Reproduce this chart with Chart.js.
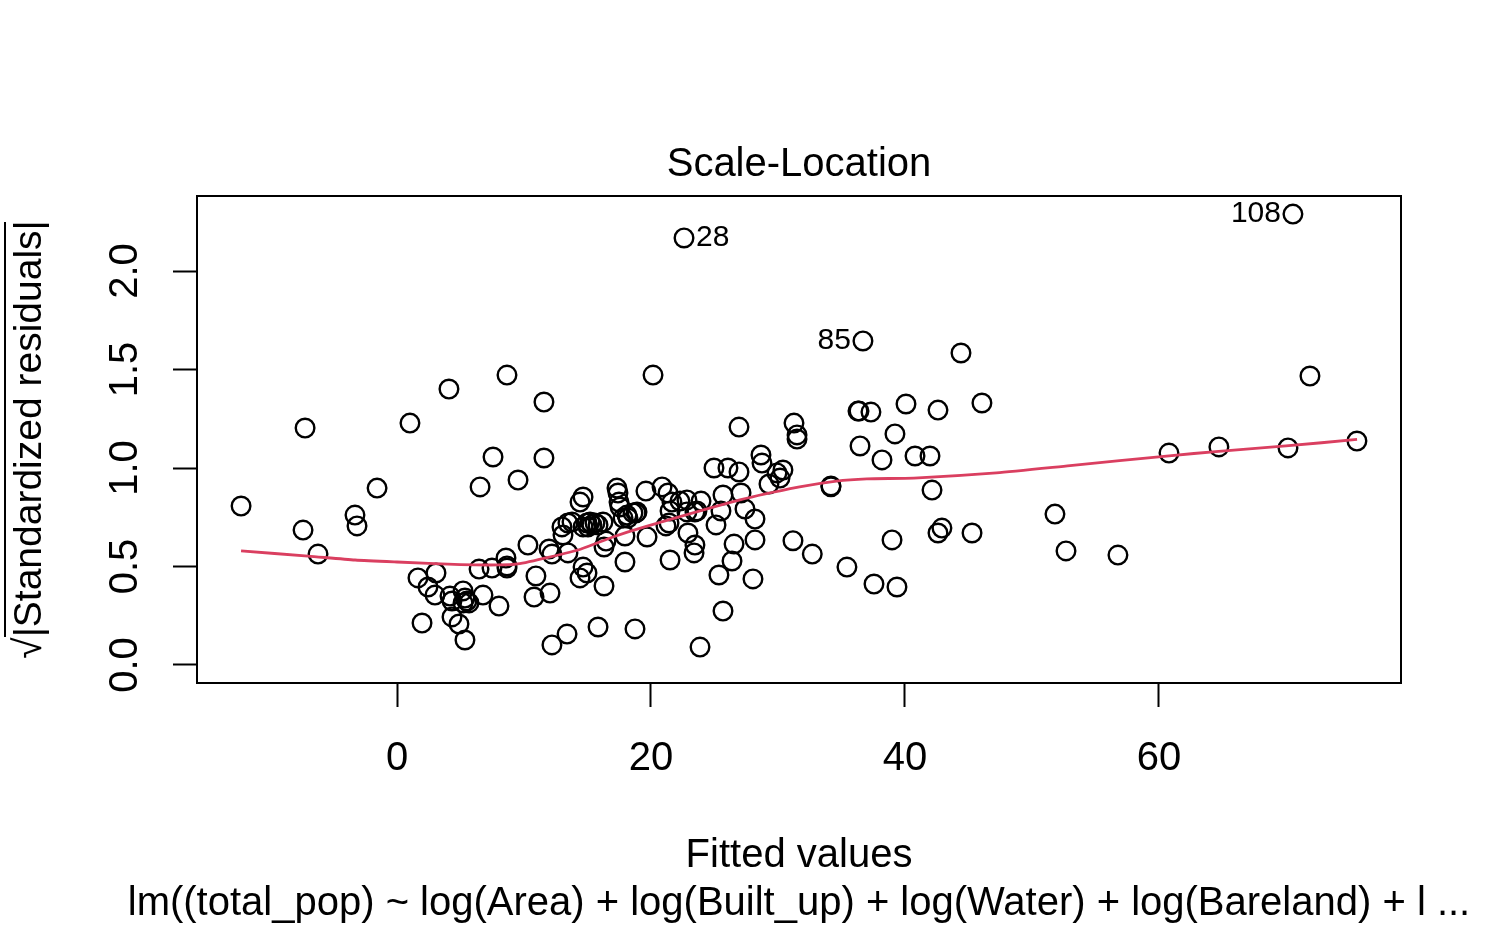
<!DOCTYPE html>
<html>
<head>
<meta charset="utf-8">
<style>html,body{margin:0;padding:0;background:#fff}canvas{display:block}</style>
<script src="https://cdn.jsdelivr.net/npm/chart.js@4/dist/chart.umd.min.js"></script>
</head>
<body>
<canvas id="c" width="1502" height="928" style="width:1502px;height:928px"></canvas>
<script>
const fittedValues = [-12.28,-7.40,-7.24,-6.22,-3.31,-3.15,-1.57,1.02,4.09,8.66,11.57,11.57,7.56,9.53,6.54,20.16,22.6,70.55,36.69,44.41,71.89,46.06,40.08,42.6,36.38,36.3,37.32,31.26,31.5,31.5,26.93,36.46,39.21,38.19,40.79,41.97,42.13,60.79,64.72,70.16,75.59,51.81,52.68,56.77,45.28,42.91,42.6,38.98,31.18,32.7,35.43,37.56,39.37,34.17,34.17,28.66,28.74,24.96,26.06,26.93,30.39,29.92,30.16,29.29,27.09,25.67,20.87,21.34,19.6,23.94,22.83,22.28,21.65,21.5,23.62,23.46,22.83,21.42,21.18,27.4,28.19,25.51,25.12,22.91,19.69,23.46,23.39,21.5,26.54,28.19,26.38,25.35,28.03,25.67,23.86,1.65,3.07,2.44,2.99,4.17,4.33,5.2,5.35,5.51,5.67,5.2,6.77,8.03,4.33,4.88,1.97,5.35,6.46,7.48,8.58,8.66,8.66,10.31,10.94,10.79,12.05,11.97,12.2,13.46,13.39,12.2,15.83,18.74,16.3,14.41,14.65,14.96,17.95,16.3,16.46,17.95,13.07,12.99,13.46,13.78,14.65,14.96,15.2,15.35,15.59,15.83,16.22,15.04,14.41,14.65,17.32,17.4,17.48,17.56,17.8,18.11,18.58,18.9,18.82,18.19];
const sqrtResiduals = [0.807,0.685,1.203,0.563,0.761,0.706,0.898,1.228,1.401,1.472,1.335,1.051,1.056,0.939,0.904,1.472,2.168,2.289,1.645,1.584,1.467,1.330,1.325,1.294,1.289,1.289,1.284,1.228,1.168,1.147,1.208,1.112,1.173,1.041,1.061,1.061,0.888,1.076,1.107,1.102,1.137,0.766,0.579,0.558,0.670,0.695,0.670,0.635,0.631,0.563,0.497,0.411,0.396,0.909,0.905,1.066,1.025,1.0,1.0,0.98,0.99,0.975,0.949,0.919,0.873,0.863,0.904,0.873,0.883,0.832,0.838,0.832,0.827,0.782,0.782,0.777,0.777,0.721,0.706,0.792,0.741,0.782,0.711,0.670,0.650,0.609,0.569,0.533,0.614,0.635,0.528,0.457,0.437,0.274,0.091,0.442,0.467,0.396,0.355,0.350,0.325,0.376,0.340,0.325,0.315,0.315,0.355,0.299,0.244,0.208,0.213,0.127,0.487,0.492,0.543,0.503,0.492,0.609,0.452,0.345,0.365,0.589,0.563,0.569,0.157,0.102,0.193,0.183,0.401,0.442,0.497,0.467,0.523,0.599,0.629,0.655,0.660,0.701,0.721,0.726,0.701,0.721,0.726,0.711,0.721,0.711,0.726,0.701,0.827,0.853,0.898,0.873,0.827,0.802,0.746,0.761,0.772,0.777,0.772,0.746];
const smoothX = [-12.28,-7,-3.3,0,5,8,9.5,12,14.5,17,19.5,27,31.7,34.6,37,40.7,47.2,53,60.8,64.7,70,75.6];
const smoothY = [0.579,0.553,0.533,0.523,0.510,0.508,0.513,0.548,0.589,0.650,0.701,0.838,0.904,0.934,0.945,0.949,0.975,1.012,1.062,1.085,1.112,1.145];
const xTicks = [0,20,40,60];
const yTicks = [0,0.5,1,1.5,2];
const labelText = ["28","85","108"];
const labelX = [22.6,36.69,70.55];
const labelY = [2.168,1.645,2.289];
const labelSide = [1,-1,-1];
const titleText = "Scale-Location";
const xTitle = "Fitted values";
const yTitle = "√|Standardized residuals|";
const captionText = "lm((total_pop) ~ log(Area) + log(Built_up) + log(Water) + log(Bareland) + l ...";

const FONT = '"Liberation Sans", Arial, Helvetica, sans-serif';
const decorate = {
  id: 'decorate',
  afterDraw(chart) {
    const {ctx, chartArea: a, scales: {x, y}} = chart;
    ctx.save();
    ctx.strokeStyle = '#000';
    ctx.lineWidth = 2;
    ctx.strokeRect(a.left, a.top, a.right - a.left, a.bottom - a.top);
    // overline of the square-root sign
    ctx.beginPath(); ctx.moveTo(5, 222); ctx.lineTo(5, 637); ctx.stroke();
    ctx.fillStyle = '#000';
    ctx.textBaseline = 'middle';
    ctx.font = '30px ' + FONT;
    labelText.forEach((t, i) => {
      const side = labelSide[i];
      ctx.textAlign = side > 0 ? 'left' : 'right';
      ctx.fillText(t, x.getPixelForValue(labelX[i]) + side * 12, y.getPixelForValue(labelY[i]));
    });
    ctx.font = '40px ' + FONT;
    ctx.textAlign = 'center';
    ctx.fillText(captionText, (a.left + a.right) / 2, 904);
    ctx.restore();
  }
};
new Chart(document.getElementById('c'), {
  type: 'scatter',
  data: {
    datasets: [
      { type: 'line', data: smoothX.map((v, i) => ({x: v, y: smoothY[i]})), borderColor: '#DA3F60', borderWidth: 2.8, pointRadius: 0, tension: 0.2, fill: false },
      { type: 'scatter', data: fittedValues.map((v, i) => ({x: v, y: sqrtResiduals[i]})), pointStyle: 'circle', pointRadius: 9.3, pointBorderWidth: 2.4, pointBorderColor: '#000', pointBackgroundColor: 'transparent', showLine: false }
    ]
  },
  options: {
    responsive: false,
    animation: false,
    devicePixelRatio: 1,
    layout: { padding: { left: 0, right: 101, top: 0, bottom: 0 } },
    plugins: {
      legend: { display: false },
      tooltip: { enabled: false },
      title: { display: true, text: titleText, color: '#000', fullSize: false, font: { family: FONT, size: 40, weight: 'normal', lineHeight: 1.2 }, padding: { top: 141, bottom: 7 } }
    },
    scales: {
      x: {
        type: 'linear', min: -15.75, max: 79.06,
        afterBuildTicks(s) { s.ticks = xTicks.map(v => ({value: v})); },
        afterFit(s) { s.height = 245; },
        grid: { drawOnChartArea: false, drawTicks: true, tickLength: 24, tickWidth: 2, tickColor: '#000' },
        border: { display: true, color: '#000', width: 2 },
        ticks: { color: '#000', padding: 28, maxRotation: 0, autoSkip: false, font: { family: FONT, size: 40 } },
        title: { display: true, text: xTitle, color: '#000', font: { family: FONT, size: 40, lineHeight: 1.2 }, padding: { top: 0, bottom: 48 } }
      },
      y: {
        type: 'linear', min: -0.0914, max: 2.381,
        afterBuildTicks(s) { s.ticks = yTicks.map(v => ({value: v})); },
        afterFit(s) { s.width = 197; },
        grid: { drawOnChartArea: false, drawTicks: true, tickLength: 24, tickWidth: 2, tickColor: '#000' },
        border: { display: true, color: '#000', width: 2 },
        ticks: { color: '#000', padding: 19, minRotation: 90, maxRotation: 90, crossAlign: 'center', autoSkip: false, font: { family: FONT, size: 40 }, callback: v => Number(v).toFixed(1) },
        title: { display: true, text: yTitle, color: '#000', font: { family: FONT, size: 39, lineHeight: 1.2 }, padding: { top: 7, bottom: 0 } }
      }
    }
  },
  plugins: [decorate]
});
</script>
</body>
</html>
